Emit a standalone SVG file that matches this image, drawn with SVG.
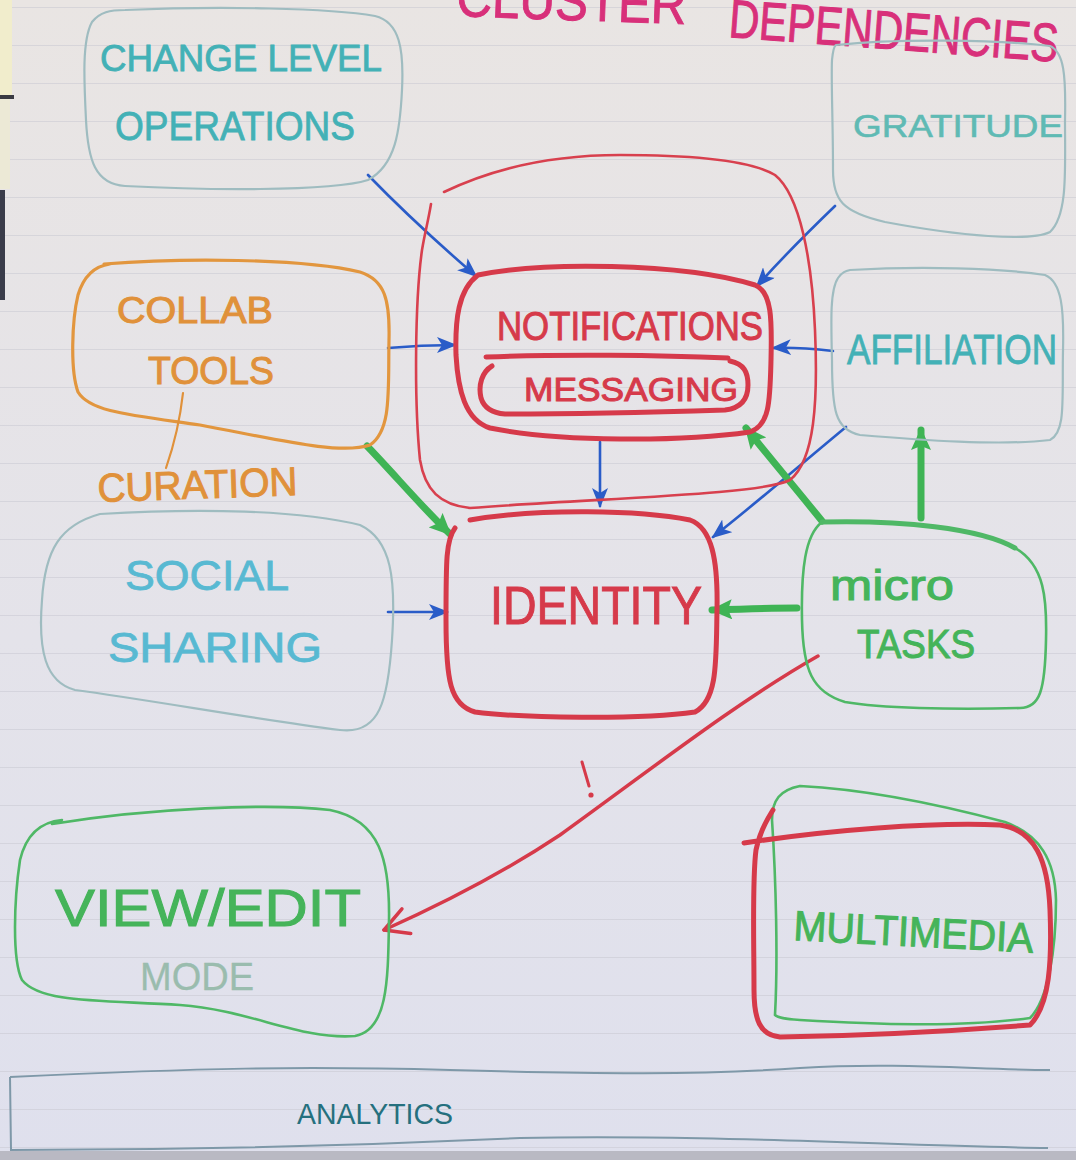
<svg xmlns="http://www.w3.org/2000/svg" width="1076" height="1160" viewBox="0 0 1076 1160">
  <defs>
    <linearGradient id="paper" x1="0" y1="0" x2="0" y2="1">
      <stop offset="0" stop-color="#e9e5e3"/>
      <stop offset="0.55" stop-color="#e4e3ea"/>
      <stop offset="1" stop-color="#dfe0ed"/>
    </linearGradient>
    <pattern id="rules" x="0" y="7" width="1076" height="38" patternUnits="userSpaceOnUse">
      <line x1="0" y1="0.5" x2="1076" y2="0.5" stroke="#c9c8d2" stroke-width="1" opacity="0.55"/>
    </pattern>
    <marker id="headBlue" viewBox="0 0 20 16" refX="18" refY="8" markerWidth="20" markerHeight="16" markerUnits="userSpaceOnUse" orient="auto">
      <path d="M0,0 L20,8 L0,16 L5,8 Z" fill="#2a5cc8"/>
    </marker>
    <marker id="headGreen" viewBox="0 0 22 20" refX="20" refY="10" markerWidth="22" markerHeight="20" markerUnits="userSpaceOnUse" orient="auto">
      <path d="M0,0 L22,10 L0,20 L4,10 Z" fill="#3fb455"/>
    </marker>
    <marker id="headOpenRed" viewBox="0 0 32 32" refX="29" refY="16" markerWidth="32" markerHeight="32" markerUnits="userSpaceOnUse" orient="auto">
      <path d="M6,2 L29,16 L4,28" fill="none" stroke="#d63a4a" stroke-width="3.5" stroke-linecap="round" stroke-linejoin="round"/>
    </marker>
  </defs>
  <style>
    .hand { font-family: "Liberation Sans", "DejaVu Sans", sans-serif; }
    .box-light { fill: none; stroke: #9fbcc0; stroke-width: 2.2; stroke-linecap: round; stroke-linejoin: round; }
    .box-red { fill: none; stroke: #d63a4a; stroke-width: 5; stroke-linecap: round; stroke-linejoin: round; }
    .box-red-thin { fill: none; stroke: #d8404e; stroke-width: 2.6; stroke-linecap: round; }
    .box-orange { fill: none; stroke: #e2963e; stroke-width: 3.2; stroke-linecap: round; stroke-linejoin: round; }
    .box-green { fill: none; stroke: #4fb866; stroke-width: 2.6; stroke-linecap: round; stroke-linejoin: round; }
    .t-teal { fill: #43b1b6; stroke: #43b1b6; stroke-width: 0.8; }
    .t-red { fill: #d63a4a; stroke: #d63a4a; stroke-width: 1; }
    .t-orange { fill: #e0913a; stroke: #e0913a; stroke-width: 1; }
    .t-green { fill: #45b45a; stroke: #45b45a; stroke-width: 1; }
    .t-sky { fill: #58b9d2; stroke: #58b9d2; stroke-width: 0.8; }
    .link-blue { fill: none; stroke: #2a5cc8; stroke-width: 2.6; stroke-linecap: round; marker-end: url(#headBlue); }
    .link-green { fill: none; stroke: #3fb455; stroke-width: 7; stroke-linecap: round; marker-end: url(#headGreen); }
  </style>

  <!-- flipchart sheet -->
  <rect x="0" y="0" width="1076" height="1160" fill="url(#paper)"/>
  <rect x="0" y="0" width="1076" height="1150" fill="url(#rules)"/>
  <!-- sheet edges -->
  <rect x="0" y="0" width="12" height="96" fill="#f1edcc"/>
  <rect x="0" y="95" width="14" height="4" fill="#3a3a42"/>
  <rect x="0" y="99" width="10" height="90" fill="#ece9d6"/>
  <rect x="0" y="190" width="5" height="110" fill="#3a3c4a"/>
  <rect x="0" y="1151" width="1076" height="9" fill="#b9b9c3"/>

  <!-- title -->
  <g id="title" class="hand">
    <text x="456" y="16" font-size="56" textLength="230" lengthAdjust="spacingAndGlyphs" fill="#d8307a" stroke="#d8307a" stroke-width="1" transform="rotate(2 456 16)">CLUSTER</text>
    <text x="728" y="37" font-size="54" textLength="330" lengthAdjust="spacingAndGlyphs" fill="#d8307a" stroke="#d8307a" stroke-width="1" transform="rotate(4.3 728 37)">DEPENDENCIES</text>
  </g>

  <!-- connectors -->
  <g id="connectors">
    <path class="link-blue" d="M368,175 C400,208 440,245 476,276"/>
    <path class="link-blue" d="M835,206 C808,232 782,258 757,286"/>
    <path class="link-blue" d="M388,348 C410,346 430,345 455,345"/>
    <path class="link-blue" d="M833,351 C815,349 795,347 773,348"/>
    <path class="link-blue" d="M600,442 L600,506"/>
    <path class="link-blue" d="M846,427 C800,465 760,500 713,537"/>
    <path class="link-blue" d="M388,612 L447,612"/>
    <path class="link-green" d="M367,446 C395,475 420,505 450,534"/>
    <path class="link-green" d="M822,521 C797,490 770,458 746,428"/>
    <path class="link-green" d="M921,518 L921,430"/>
    <path class="link-green" d="M797,608 C770,608 740,609 712,610"/>
    <path d="M818,656 C740,700 650,770 560,835 C500,875 440,905 384,930" fill="none" stroke="#d63a4a" stroke-width="3.5" stroke-linecap="round" marker-end="url(#headOpenRed)"/>
    <!-- exclamation beside the dependency -->
    <path d="M582,762 L589,786" stroke="#d63a4a" stroke-width="3" stroke-linecap="round"/>
    <circle cx="591" cy="795" r="2.6" fill="#d63a4a"/>
  </g>

  <!-- change level operations -->
  <g id="change-level-operations">
    <path class="box-light" d="M125,10 C220,6 330,8 375,16 C400,22 404,50 402,90 C400,130 396,165 368,180 C330,192 200,190 125,186 C95,184 88,160 86,120 C84,80 82,40 92,22 C100,12 110,10 125,10 Z"/>
    <text class="hand t-teal" x="100" y="71" font-size="36" textLength="282" lengthAdjust="spacingAndGlyphs">CHANGE LEVEL</text>
    <text class="hand t-teal" x="115" y="140" font-size="40" textLength="240" lengthAdjust="spacingAndGlyphs">OPERATIONS</text>
  </g>

  <!-- gratitude -->
  <g id="gratitude">
    <path class="box-light" d="M836,45 C900,38 1000,40 1050,46 C1064,52 1066,75 1065,120 C1065,170 1068,215 1050,232 C1030,242 960,236 885,222 C842,212 833,200 833,170 C833,120 831,80 832,60 C833,50 834,46 836,45 Z"/>
    <text class="hand" x="853" y="137" font-size="32" textLength="210" lengthAdjust="spacingAndGlyphs" fill="#5fbab4" stroke="#5fbab4" stroke-width="0.6">GRATITUDE</text>
  </g>

  <!-- notifications / messaging cluster -->
  <g id="notifications">
    <path class="box-red-thin" d="M444,192 C500,165 560,155 620,155 C690,155 750,160 775,175 C800,195 812,260 815,330 C818,400 815,460 790,480 C760,495 600,498 470,508 C440,505 425,490 420,460 C414,400 415,300 422,250 C425,232 428,222 431,204"/>
    <path class="box-red" d="M478,275 C540,262 680,262 755,285 C772,292 772,320 771,360 C770,400 770,425 750,432 C680,442 560,442 490,428 C465,420 458,390 456,355 C455,320 458,290 478,275 Z"/>
    <text class="hand t-red" x="497" y="340" font-size="40" textLength="266" lengthAdjust="spacingAndGlyphs">NOTIFICATIONS</text>
    <path class="box-red" stroke-width="4" d="M486,357 C560,354 660,355 728,358"/>
    <path class="box-red" stroke-width="4" d="M492,366 C482,372 478,385 481,398 C484,408 492,413 505,414 C580,414 660,412 725,410 C742,408 748,398 748,385 C748,372 744,364 730,361"/>
    <text class="hand t-red" x="524" y="401" font-size="33" textLength="214" lengthAdjust="spacingAndGlyphs">MESSAGING</text>
  </g>

  <!-- collab tools / curation -->
  <g id="collab-tools">
    <path class="box-orange" d="M104,264 C180,258 300,258 360,272 C385,280 390,300 389,340 C388,390 392,430 370,445 C340,455 280,440 200,425 C130,415 90,412 78,392 C70,370 72,320 78,295 C84,275 95,266 110,264"/>
    <text class="hand t-orange" x="117" y="323" font-size="36" textLength="156" lengthAdjust="spacingAndGlyphs">COLLAB</text>
    <text class="hand t-orange" x="148" y="384" font-size="38" textLength="126" lengthAdjust="spacingAndGlyphs">TOOLS</text>
    <path d="M183,393 C180,420 174,445 166,468" fill="none" stroke="#e0913a" stroke-width="2.2" stroke-linecap="round"/>
    <text class="hand t-orange" x="98" y="502" font-size="40" textLength="200" lengthAdjust="spacingAndGlyphs" transform="rotate(-2 98 502)">CURATION</text>
  </g>

  <!-- social sharing -->
  <g id="social-sharing">
    <path class="box-light" stroke="#9cc6d6" d="M100,514 C200,508 300,510 360,525 C392,540 396,580 392,640 C388,700 380,735 340,730 C260,720 150,700 75,690 C45,682 38,650 42,600 C45,550 60,525 100,514 Z"/>
    <text class="hand t-sky" x="125" y="590" font-size="42" textLength="164" lengthAdjust="spacingAndGlyphs">SOCIAL</text>
    <text class="hand t-sky" x="108" y="662" font-size="42" textLength="214" lengthAdjust="spacingAndGlyphs">SHARING</text>
  </g>

  <!-- identity -->
  <g id="identity">
    <path class="box-red" d="M470,520 C540,508 640,510 690,520 C712,528 718,560 717,610 C716,660 718,700 695,712 C640,720 520,718 475,712 C450,705 446,680 446,620 C446,560 446,540 455,528"/>
    <text class="hand t-red" x="490" y="624" font-size="54" textLength="212" lengthAdjust="spacingAndGlyphs">IDENTITY</text>
  </g>

  <!-- affiliation -->
  <g id="affiliation">
    <path class="box-light" d="M850,270 C920,266 1000,268 1045,275 C1062,282 1064,310 1063,350 C1062,400 1066,432 1050,440 C1000,446 920,440 860,435 C835,430 832,410 832,360 C831,320 830,290 838,278 C842,272 846,271 850,270 Z"/>
    <text class="hand t-teal" x="847" y="364" font-size="42" textLength="210" lengthAdjust="spacingAndGlyphs">AFFILIATION</text>
  </g>

  <!-- micro tasks -->
  <g id="micro-tasks">
    <path class="box-green" d="M822,522 C900,520 980,528 1015,548 C1045,565 1047,600 1046,640 C1045,690 1040,708 1020,708 C950,710 880,708 845,702 C812,692 803,670 802,620 C801,570 805,535 822,522 Z"/>
    <path d="M822,522 C900,520 980,528 1015,548" fill="none" stroke="#4fb866" stroke-width="5" stroke-linecap="round"/>
    <text class="hand t-green" x="830" y="600" font-size="42" textLength="124" lengthAdjust="spacingAndGlyphs">micro</text>
    <text class="hand t-green" x="857" y="658" font-size="40" textLength="118" lengthAdjust="spacingAndGlyphs">TASKS</text>
  </g>

  <!-- view / edit mode -->
  <g id="view-edit-mode">
    <path class="box-green" stroke="#6cbe8a" d="M52,824 C150,808 270,803 330,810 C380,820 390,860 389,920 C388,980 388,1030 355,1036 C300,1040 250,1010 180,1005 C100,1000 40,1003 22,980 C12,960 14,900 20,860 C26,835 40,822 62,820"/>
    <text class="hand t-green" x="55" y="926" font-size="52" textLength="306" lengthAdjust="spacingAndGlyphs">VIEW/EDIT</text>
    <text class="hand" x="140" y="990" font-size="38" textLength="114" lengthAdjust="spacingAndGlyphs" fill="#9abcae" stroke="#9abcae" stroke-width="0.3">MODE</text>
  </g>

  <!-- multimedia -->
  <g id="multimedia">
    <path class="box-green" stroke-width="3.2" d="M775,1015 C778,960 776,880 772,820 C772,800 780,790 800,786 C880,790 960,810 1005,822 C1040,835 1055,860 1056,900 C1056,950 1048,1000 1030,1018 C960,1028 870,1024 800,1020 C785,1019 778,1018 775,1015"/>
    <path class="box-red" stroke-width="3.8" d="M744,843 C830,830 930,822 1000,825 C1035,830 1048,860 1050,910 C1052,960 1050,1005 1030,1025 C940,1032 840,1036 780,1037 C760,1035 754,1020 754,990 C754,940 752,880 756,850 C760,830 768,818 773,810"/>
    <text class="hand t-green" x="793" y="940" font-size="42" textLength="240" lengthAdjust="spacingAndGlyphs" transform="rotate(3 793 940)">MULTIMEDIA</text>
  </g>

  <!-- analytics band -->
  <g id="analytics">
    <path d="M10,1077 C200,1068 300,1066 450,1070 C600,1074 700,1075 800,1068 C900,1062 980,1070 1050,1070" fill="none" stroke="#7e98a8" stroke-width="2"/>
    <path d="M10,1077 L11,1150 C200,1150 350,1146 520,1138 C700,1134 900,1146 1048,1148" fill="none" stroke="#7e98a8" stroke-width="2"/>
    <text class="hand" x="297" y="1124" font-size="30" textLength="156" lengthAdjust="spacingAndGlyphs" fill="#25707e">ANALYTICS</text>
  </g>
</svg>
